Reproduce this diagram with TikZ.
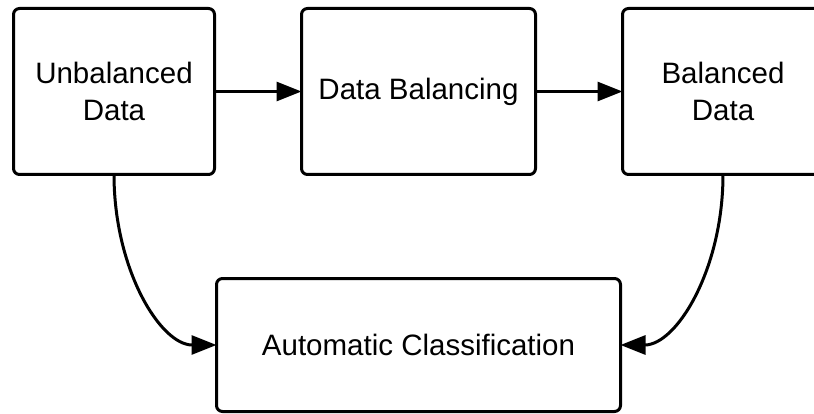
\documentclass[tikz,border=0pt]{standalone}
\usepackage{fontspec}
\setmainfont{Liberation Sans}
\usetikzlibrary{arrows.meta}
\begin{document}
\begin{tikzpicture}[x=1pt,y=-1pt,
  box/.style={draw=black,line width=3pt,rounded corners=6pt,align=center,
    inner sep=0pt,outer sep=0pt,font=\fontsize{29.5}{37}\selectfont},
  arr/.style={line width=3pt,-{Triangle[length=25pt,width=19pt]}}]
\useasboundingbox (0,0) rectangle (814,414);
\clip (0,0) rectangle (814,414);
\fill[white] (0,0) rectangle (814,414);
\node[box,minimum width=201pt,minimum height=166pt] (ud) at (114,91.5) {Unbalanced\\Data};
\node[box,minimum width=234pt,minimum height=166pt] (db) at (418.5,91.5) {Data Balancing};
\node[box,minimum width=201pt,minimum height=166pt] (bd) at (723,91.5) {Balanced\\Data};
\node[box,minimum width=404pt,minimum height=133pt] (ac) at (418.5,345) {Automatic Classification};
\draw[arr] (ud.east) -- (db.west);
\draw[arr] (db.east) -- (bd.west);
\draw[arr] (ud.south) .. controls +(0,95) and +(-56,0) .. (ac.west);
\draw[arr] (bd.south) .. controls +(0,95) and +(56,0) .. (ac.east);
\end{tikzpicture}
\end{document}
